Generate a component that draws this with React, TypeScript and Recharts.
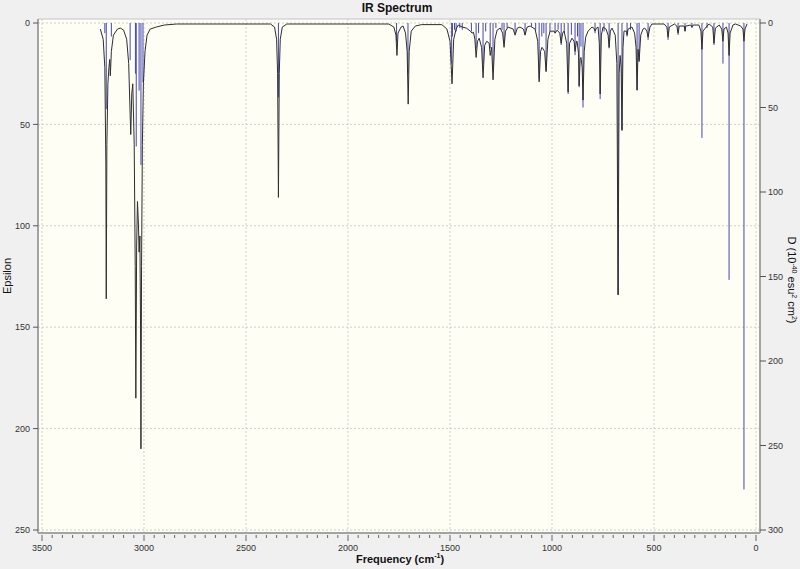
import {
  CartesianGrid,
  ComposedChart,
  Line,
  ReferenceLine,
  XAxis,
  YAxis,
} from "recharts";

// broadened spectrum (freq cm-1, epsilon)
const chStretchCurve: [number, number][] = [
  [3214, 3], [3200, 8], [3192, 22], [3187, 70], [3185, 136], [3182, 60],
  [3177, 30], [3172, 22], [3168, 18], [3165, 26], [3160, 14], [3150, 6],
  [3130, 3], [3116, 2.5], [3100, 3.5], [3085, 8], [3075, 20], [3068, 45],
  [3065, 55], [3060, 35], [3055, 30], [3048, 60], [3043, 120], [3040, 185],
  [3036, 110], [3032, 88], [3027, 100], [3024, 113], [3020, 105], [3017, 150],
  [3015, 210], [3012, 120], [3008, 60], [3003, 30], [2995, 14], [2985, 6],
  [2970, 3], [2940, 2], [2900, 1], [2840, 0.5],
];

const midCurve: [number, number][] = [
  [2380, 0.5], [2360, 2], [2350, 8], [2345, 25], [2341, 86], [2337, 25],
  [2332, 8], [2322, 2], [2300, 0.5], [1800, 0.5], [1775, 2], [1765, 6],
  [1760, 16], [1755, 5], [1740, 2], [1730, 1.5], [1718, 5], [1710, 14],
  [1705, 40], [1700, 14], [1690, 4], [1670, 1.5], [1640, 0.8], [1540, 0.8],
];

const fingerprintCurve: [number, number][] = [
  [1515, 3], [1500, 9], [1490, 30], [1482, 8], [1470, 3], [1460, 1],
  [1440, 2], [1420, 2.5], [1400, 4], [1392, 5], [1385, 4.5], [1378, 8],
  [1372, 17], [1365, 9], [1357, 7.5], [1345, 12], [1338, 27], [1330, 11],
  [1320, 9], [1308, 10], [1303, 16], [1296, 12], [1289, 28], [1280, 8],
  [1269, 3.5], [1254, 2.5], [1242, 5], [1235, 12], [1228, 4], [1215, 2],
  [1190, 3], [1181, 6], [1170, 2.5], [1157, 2], [1140, 3], [1132, 6],
  [1122, 2], [1107, 1.5], [1083, 3], [1070, 9], [1063, 29], [1056, 14],
  [1049, 12], [1036, 14], [1029, 24], [1020, 8], [1009, 4], [990, 4],
  [985, 5], [975, 3.5], [962, 5], [955, 10], [948, 5], [941, 4], [928, 10],
  [921, 34], [914, 10], [902, 7.5], [892, 9], [887, 14], [880, 9], [877, 9],
  [870, 15], [867, 31], [862, 18], [858, 17], [852, 22], [848, 38], [842, 14],
  [835, 7], [823, 4], [804, 2], [795, 2.5], [789, 4], [782, 2.5], [774, 2],
  [768, 10], [764, 35], [758, 6], [750, 2], [735, 3], [725, 6], [720, 12],
  [714, 4], [706, 2.5], [690, 6], [682, 20], [676, 134], [671, 25], [666, 16],
  [661, 22], [657, 53], [652, 12], [647, 4], [635, 4], [632, 6], [627, 3],
  [608, 2], [595, 5], [588, 12], [583, 33], [578, 13], [573, 19], [565, 6],
  [554, 3], [545, 2.5], [535, 4], [529, 7], [520, 2], [510, 0.5],
];

const lowCurve: [number, number][] = [
  [450, 0.5], [437, 2], [431, 7], [425, 2], [400, 0.5], [388, 1.5], [382, 5],
  [376, 1.5], [352, 1.5], [348, 4], [344, 1.5], [320, 1], [314, 2], [308, 1],
  [280, 1], [270, 4], [265, 13], [260, 4], [240, 1.5], [230, 0.5], [212, 2],
  [206, 10], [199, 2.5], [180, 1], [168, 3], [162, 9], [157, 3], [145, 2],
  [137, 5], [132, 16], [127, 5], [113, 1], [100, 0.5], [75, 1.5], [64, 3],
  [59, 9], [54, 3], [44, 0.5],
];

// stick spectrum (freq cm-1, D in 10^-40 esu^2 cm^2)
const sticks: [number, number][] = [
  [3192, 6], [3185, 51], [3160, 8], [3068, 22], [3042, 30], [3038, 73],
  [3024, 40], [3015, 84], [3005, 35], [2341, 44], [1762, 11], [1706, 30],
  [1492, 24], [1488, 8], [1478, 4], [1470, 5], [1452, 3], [1440, 4],
  [1395, 5], [1372, 15], [1360, 6], [1338, 24], [1325, 5], [1303, 15],
  [1289, 26], [1275, 3], [1245, 4], [1235, 12], [1220, 3], [1181, 6],
  [1132, 7], [1100, 2], [1080, 4], [1063, 33], [1050, 8], [1040, 6],
  [1029, 28], [1010, 5], [985, 6], [970, 4], [955, 13], [940, 6], [921, 42],
  [905, 7], [887, 19], [875, 8], [867, 38], [858, 14], [848, 50], [789, 6],
  [764, 45], [745, 5], [720, 15], [676, 161], [657, 63], [632, 8], [615, 4],
  [583, 40], [573, 22], [529, 10], [431, 10], [382, 7], [348, 5], [314, 3],
  [265, 68], [240, 3], [206, 13], [162, 24], [132, 152], [59, 276],
];

const freqMajorTicks = [3500, 3000, 2500, 2000, 1500, 1000, 500, 0];
const freqMinorStep = 50;
const epsTicks = [0, 50, 100, 150, 200, 250];
const dTicks = [0, 50, 100, 150, 200, 250, 300];

const freqTicks: number[] = [];
for (let v = 3500; v >= 0; v -= freqMinorStep) freqTicks.push(v);

const curveData = [...chStretchCurve, ...midCurve, ...fingerprintCurve, ...lowCurve].map(
  ([f, eps]) => ({ f, eps })
);

const stickData = sticks.flatMap(([f, d]) => [
  { f, d: 0 },
  { f, d },
  { f, d: null },
]);

const font = '"Liberation Sans", Arial, sans-serif';

function FreqTick(props: any) {
  const { x, y, payload } = props;
  const major = payload.value % 500 === 0;
  return (
    <g>
      <line x1={x} x2={x} y1={y + 2} y2={y + (major ? 8 : 5)} stroke="#666" />
      {major && (
        <text x={x} y={y + 18} textAnchor="middle" fontSize={9} fill="#333" fontFamily={font}>
          {payload.value}
        </text>
      )}
    </g>
  );
}

export default function App() {
  const tickStyle = { fontSize: 9, fill: "#333", fontFamily: font };
  const frame = { stroke: "#a3a3a3", strokeWidth: 2 };

  return (
    <div
      style={{
        position: "absolute",
        left: 0,
        top: 0,
        width: 800,
        height: 569,
        background: "#f0f0f0",
        fontFamily: font,
      }}
    >
      <ComposedChart
        width={800}
        height={569}
        margin={{ top: 18, right: 0, bottom: 0, left: 0 }}
      >
        <CartesianGrid
          yAxisId="eps"
          horizontal={false}
          vertical={false}
          fill="#fefef4"
        />
        <XAxis
          dataKey="f"
          type="number"
          domain={[0, 3500]}
          reversed
          ticks={freqTicks}
          interval={0}
          tick={<FreqTick />}
          tickLine={false}
          tickSize={0}
          tickMargin={0}
          axisLine={frame}
          padding={{ left: 4, right: 4 }}
          height={36}
          allowDataOverflow
        />
        <XAxis
          xAxisId="top"
          orientation="top"
          type="number"
          domain={[0, 3500]}
          reversed
          height={1}
          tick={false}
          tickLine={false}
          axisLine={{ stroke: "#c4c4c4", strokeWidth: 1 }}
        />
        <YAxis
          yAxisId="eps"
          type="number"
          domain={[0, 250]}
          reversed
          ticks={epsTicks}
          width={38}
          tick={tickStyle}
          tickLine={{ stroke: "#555" }}
          tickSize={5}
          tickMargin={3}
          axisLine={frame}
          padding={{ top: 4, bottom: 3 }}
          allowDataOverflow
        />
        <YAxis
          yAxisId="d"
          orientation="right"
          type="number"
          domain={[0, 300]}
          reversed
          ticks={dTicks}
          width={40}
          tick={tickStyle}
          tickLine={{ stroke: "#555" }}
          tickSize={6}
          tickMargin={2}
          axisLine={frame}
          padding={{ top: 4, bottom: 3 }}
          allowDataOverflow
        />
        {freqMajorTicks.map((v) => (
          <ReferenceLine
            key={`vx${v}`}
            x={v}
            yAxisId="eps"
            stroke="#cfcfcf"
            strokeDasharray="2 2"
          />
        ))}
        {epsTicks.map((v) => (
          <ReferenceLine
            key={`hy${v}`}
            y={v}
            yAxisId="eps"
            stroke="#cfcfcf"
            strokeDasharray="2 2"
          />
        ))}
        <Line
          yAxisId="d"
          data={stickData}
          dataKey="d"
          stroke="#4646b4"
          strokeWidth={1}
          dot={false}
          activeDot={false}
          connectNulls={false}
          isAnimationActive={false}
        />
        <Line
          yAxisId="eps"
          data={curveData}
          dataKey="eps"
          type="linear"
          stroke="#2e2e2e"
          strokeWidth={1}
          dot={false}
          activeDot={false}
          isAnimationActive={false}
        />
      </ComposedChart>

      <div
        style={{
          position: "absolute",
          left: 0,
          width: 800,
          top: 1,
          textAlign: "center",
          fontWeight: "bold",
          fontSize: 12,
          color: "#111",
          paddingLeft: 0,
        }}
      >
        <span style={{ position: "relative", left: -3 }}>IR Spectrum</span>
      </div>
      <div
        style={{
          position: "absolute",
          left: 0,
          width: 800,
          top: 552,
          textAlign: "center",
          fontWeight: "bold",
          fontSize: 11,
          color: "#111",
        }}
      >
        Frequency (cm<sup style={{ fontSize: 7 }}>-1</sup>)
      </div>
      <div
        style={{
          position: "absolute",
          left: 7,
          top: 276,
          transform: "translate(-50%, -50%) rotate(-90deg)",
          fontSize: 11,
          color: "#111",
          whiteSpace: "nowrap",
        }}
      >
        Epsilon
      </div>
      <div
        style={{
          position: "absolute",
          left: 792,
          top: 280,
          transform: "translate(-50%, -50%) rotate(90deg)",
          fontSize: 11,
          color: "#111",
          whiteSpace: "nowrap",
        }}
      >
        D (10<sup style={{ fontSize: 7 }}>-40</sup> esu<sup style={{ fontSize: 7 }}>2</sup> cm
        <sup style={{ fontSize: 7 }}>2</sup>)
      </div>
    </div>
  );
}
